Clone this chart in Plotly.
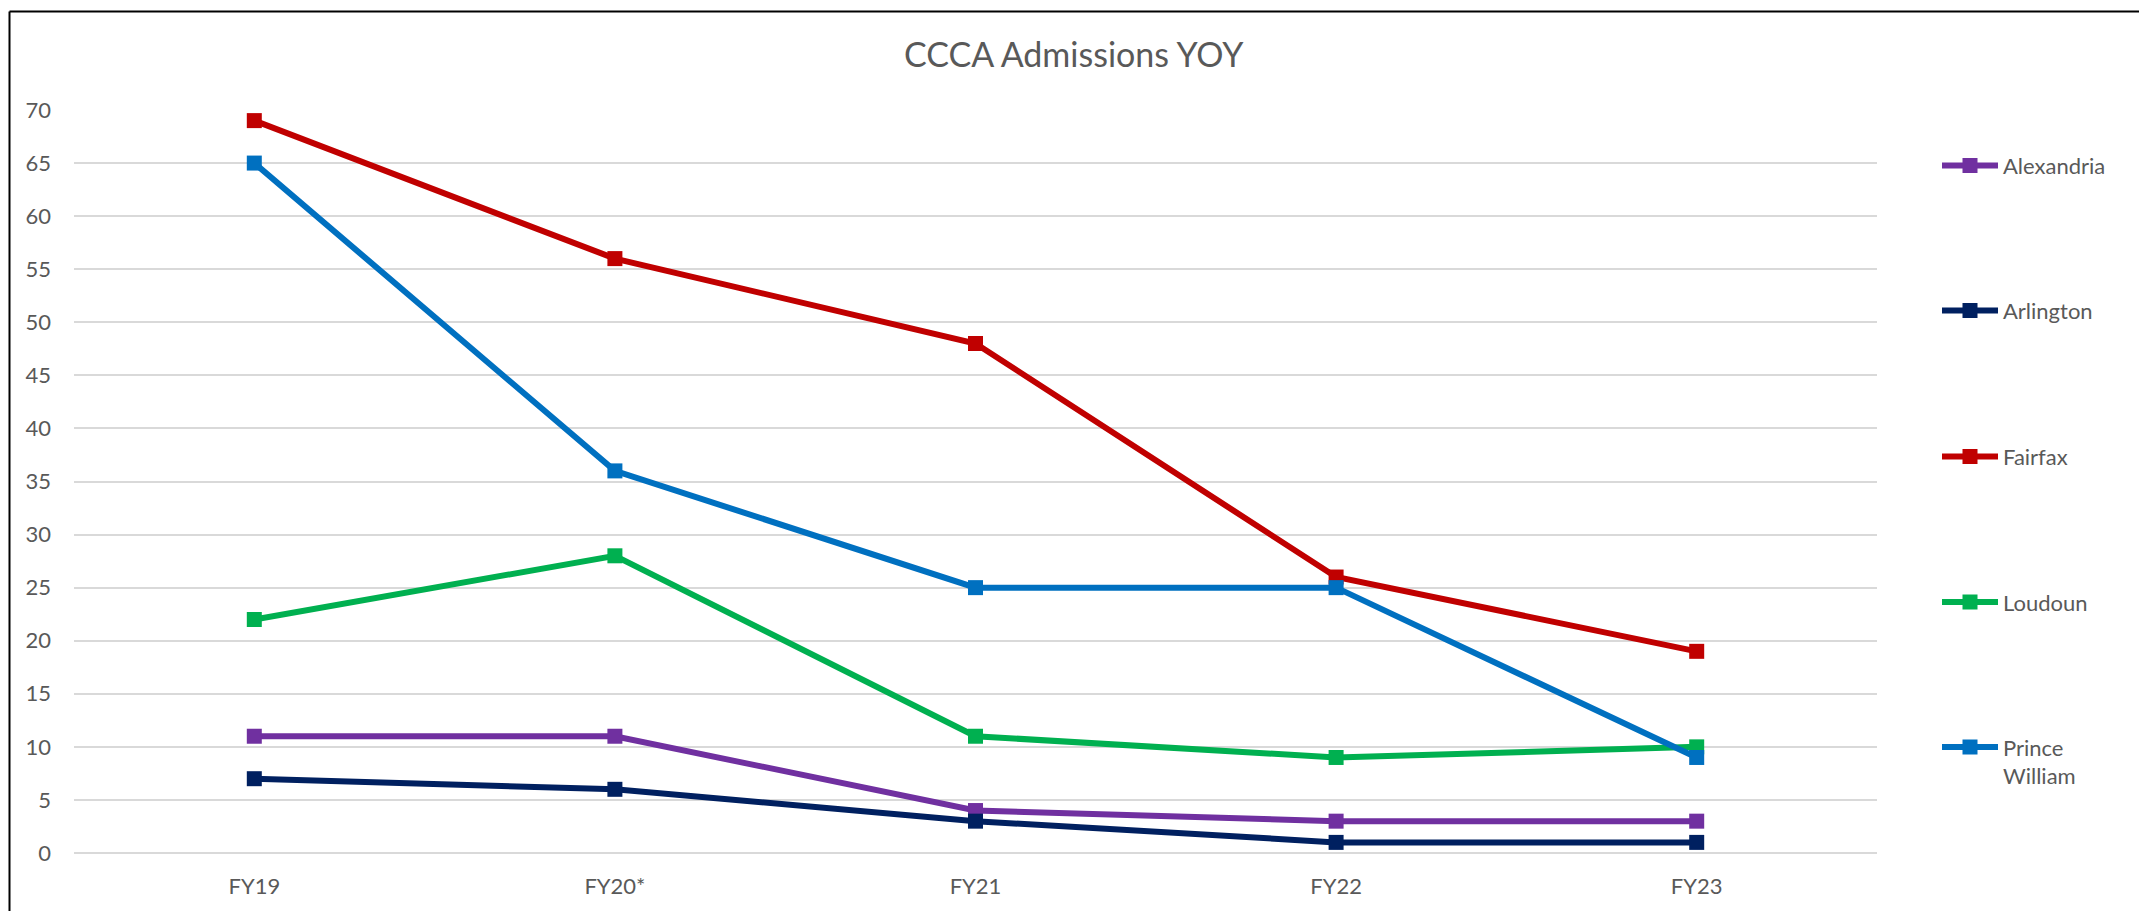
import plotly.graph_objects as go

categories = ["FY19", "FY20*", "FY21", "FY22", "FY23"]
alexandria = [11, 11, 4, 3, 3]
arlington = [7, 6, 3, 1, 1]
fairfax = [69, 56, 48, 26, 19]
loudoun = [22, 28, 11, 9, 10]
prince_william = [65, 36, 25, 25, 9]

series_names = ["Alexandria", "Arlington", "Fairfax", "Loudoun", "Prince<br>William"]
series_values = [alexandria, arlington, fairfax, loudoun, prince_william]
series_colors = ["#7030A0", "#002060", "#C00000", "#00B050", "#0070C0"]
y_ticks = list(range(0, 75, 5))

W, H = 2139, 911
ML, MR, MT, MB = 74, 262, 110, 58
PW = W - ML - MR
PH = H - MT - MB

def px_x(px):
    return (px - ML) / PW

def px_y(py):
    return (H - MB - py) / PH

FONT = "Lato"
GRAY = "#595959"

fig = go.Figure()
legend_ids = ["legend", "legend2", "legend3", "legend4", "legend5"]
legend_centers = [166.7, 311.7, 457.7, 603.3, 748.3]

for name, vals, col, lid in zip(series_names, series_values, series_colors, legend_ids):
    fig.add_trace(go.Scatter(
        x=categories, y=vals, name=name, mode="lines+markers",
        line=dict(color=col, width=6),
        marker=dict(symbol="square", size=15, color=col),
        legend=lid, showlegend=True,
    ))

layout_legends = {}
for i, (lid, cy) in enumerate(zip(legend_ids, legend_centers)):
    layout_legends[lid] = dict(
        x=px_x(1937), xanchor="left",
        y=px_y(cy - 22), yanchor="top",
        valign="top",
        font=dict(family=FONT, size=22, color=GRAY),
        bgcolor="rgba(0,0,0,0)", borderwidth=0,
        itemwidth=56,
        visible=True,
    )

fig.update_layout(
    width=W, height=H,
    showlegend=True,
    margin=dict(l=ML, r=MR, t=MT, b=MB, pad=0),
    paper_bgcolor="white", plot_bgcolor="white",
    title=dict(text="CCCA Admissions YOY", x=0.502, xanchor="center",
               y=1 - 55 / H, yanchor="middle", yref="container",
               font=dict(family=FONT, size=34, color=GRAY)),
    xaxis=dict(type="category", range=[-0.5, 4.5], showgrid=False,
               showline=False, zeroline=False,
               ticks="outside", ticklen=14, tickcolor="rgba(0,0,0,0)",
               tickfont=dict(family=FONT, size=22, color=GRAY)),
    yaxis=dict(range=[0, 70], tickvals=y_ticks, showgrid=True,
               gridcolor="#D9D9D9", gridwidth=1.5,
               zeroline=True, zerolinecolor="#D9D9D9", zerolinewidth=1.5,
               showline=False, ticks="", ticklabelstandoff=22,
               tickfont=dict(family=FONT, size=22, color=GRAY)),
    shapes=[
        dict(type="line", xref="paper", yref="paper",
             x0=px_x(9.5), x1=px_x(9.5), y0=px_y(H + 20), y1=px_y(11.5),
             line=dict(color="black", width=2)),
        dict(type="line", xref="paper", yref="paper",
             x0=px_x(9.5), x1=px_x(W + 20), y0=px_y(11.5), y1=px_y(11.5),
             line=dict(color="black", width=2)),
    ],
    **layout_legends,
)

fig.write_html("out.html",
               config={"displayModeBar": False},
               post_script="document.body.style.margin='0';document.body.style.padding='0';")
